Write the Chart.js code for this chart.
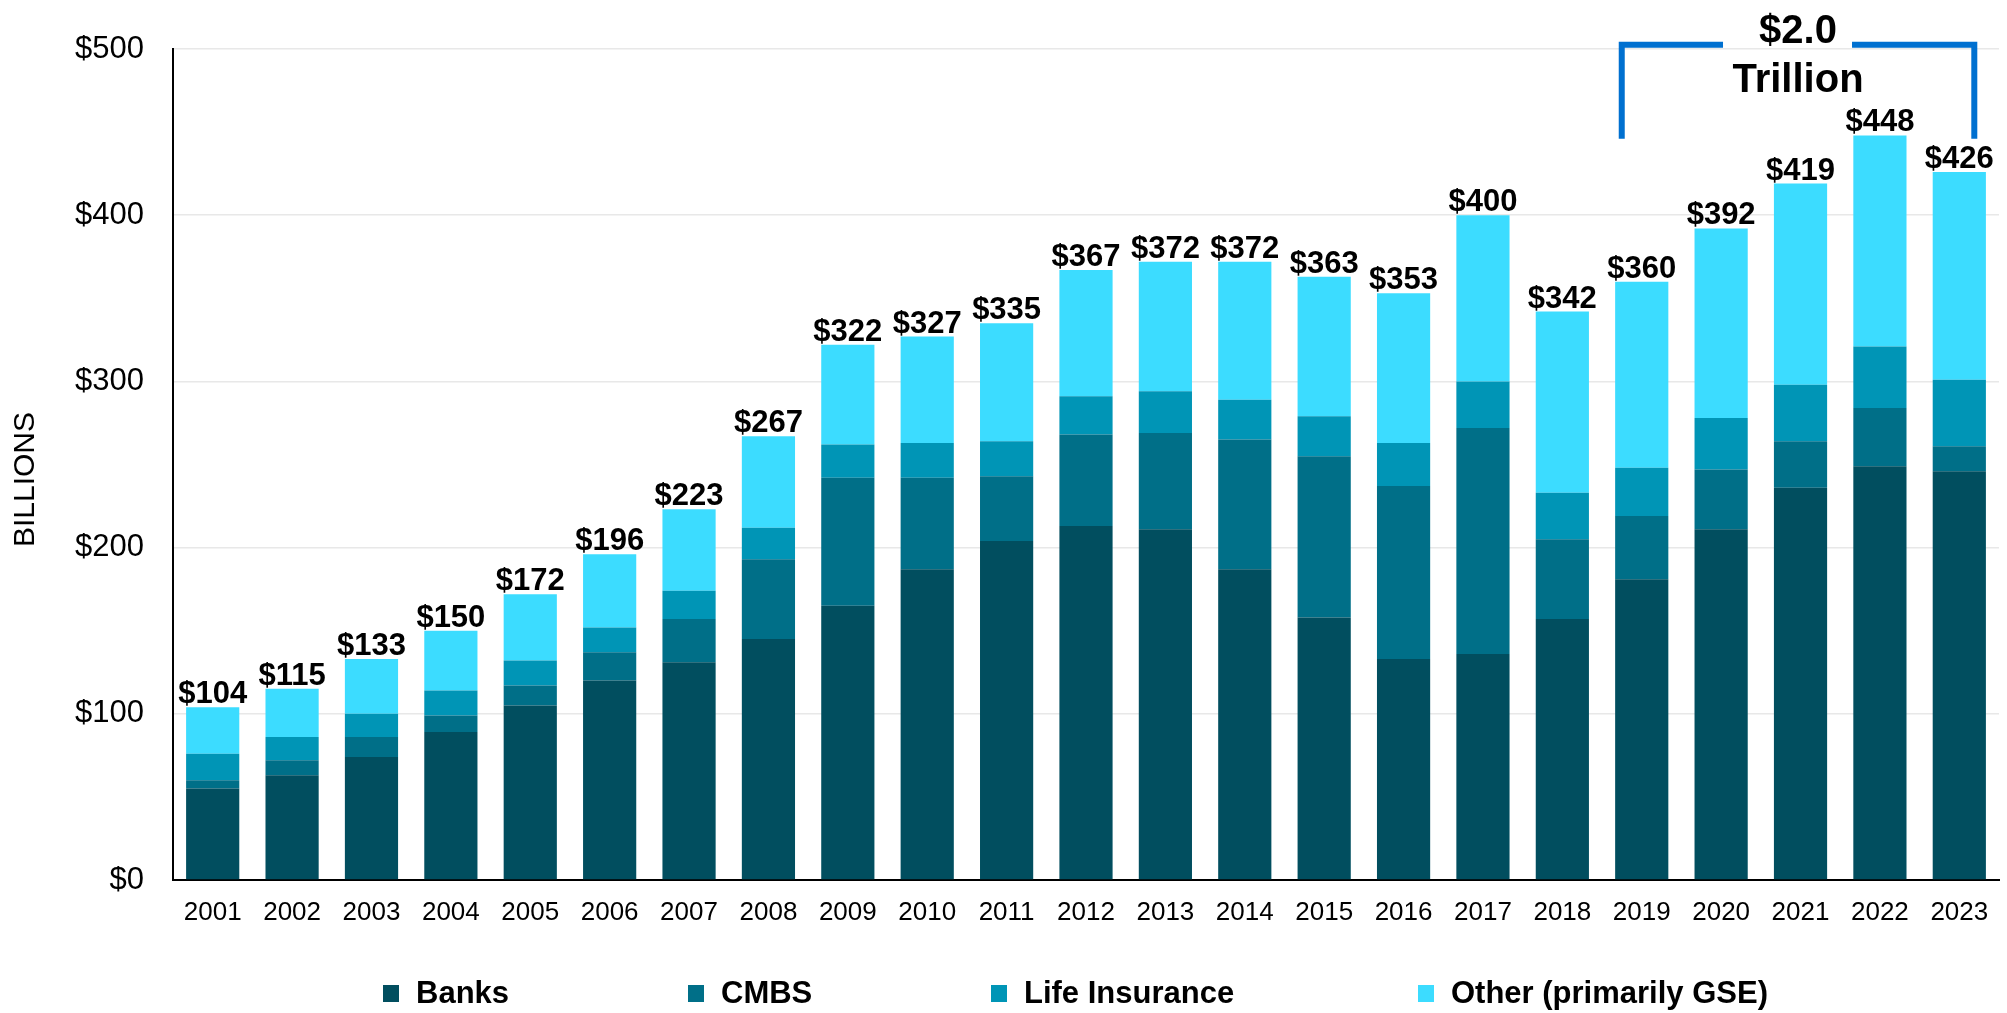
<!DOCTYPE html>
<html>
<head>
<meta charset="utf-8">
<script src="https://cdn.jsdelivr.net/npm/chart.js@4.4.1/dist/chart.umd.min.js"></script>
<style>
  html, body { margin: 0; padding: 0; background: #fff; }
  #wrap { position: relative; width: 2007px; height: 1013px; }
  #legend { position: absolute; left: 0; top: 976px; width: 2007px; height: 34px;
    font-family: "Liberation Sans", Arial, sans-serif; font-weight: bold; font-size: 31px; color: #000; }
  .item { position: absolute; top: 0; display: flex; align-items: center; height: 34px; }
  .box { width: 16px; height: 17px; margin-right: 17px; }
</style>
</head>
<body>
<div id="wrap">
  <canvas id="myChart" width="2007" height="1013"></canvas>
  <div id="legend"></div>
</div>
<script>
// commercial mortgage originations by lender, $ billions
const years = ['2001','2002','2003','2004','2005','2006','2007','2008','2009','2010','2011','2012',
  '2013','2014','2015','2016','2017','2018','2019','2020','2021','2022','2023']
const banks = [55, 63, 74, 89, 105, 120, 131, 145, 165, 187, 204, 213, 211, 187, 158, 133, 136, 157, 181, 211, 236, 249, 246]
const cmbs  = [5, 9, 12, 10, 12, 17, 26, 48, 77, 55, 39, 55, 58, 78, 97, 104, 136, 48, 38, 36, 28, 35, 15]
const life  = [16, 14, 14, 15, 15, 15, 17, 19, 20, 21, 21, 23, 25, 24, 24, 26, 28, 28, 29, 31, 34, 37, 40]
const other = [28, 29, 33, 36, 40, 44, 49, 55, 60, 64, 71, 76, 78, 83, 84, 90, 100, 109, 112, 114, 121, 127, 125]
const seriesNames = ['Banks', 'CMBS', 'Life Insurance', 'Other (primarily GSE)']
const colors = ['#014e5f', '#006f88', '#0095b6', '#3cdcff']
const yTicks = [0, 100, 200, 300, 400, 500]
const bracketText = ['$2.0', 'Trillion']

const font = '"Liberation Sans", Arial, sans-serif'

// totals above each stack
const totalsPlugin = {
    id: 'totals',
    afterDatasetsDraw(chart) {
        const ctx = chart.ctx
        const x = chart.scales.x
        const y = chart.scales.y
        ctx.save()
        ctx.font = 'bold 31px ' + font
        ctx.fillStyle = '#000'
        ctx.textAlign = 'center'
        ctx.textBaseline = 'alphabetic'
        for (var i = 0; i < years.length; i++) {
            let total = banks[i] + cmbs[i] + life[i] + other[i]
            ctx.fillText('$' + total, x.getPixelForValue(i), y.getPixelForValue(total) - 4)
        }
        ctx.restore()
    }
}

// blue bracket over 2019-2023, plus the rotated axis title
const bracketPlugin = {
    id: 'bracket',
    afterDraw(chart) {
        const ctx = chart.ctx
        const x = chart.scales.x
        const y = chart.scales.y
        const x1 = x.getPixelForValue(18) - 20
        const x2 = x.getPixelForValue(22) + 15
        const top = y.getPixelForValue(502.5)
        const bottom = y.getPixelForValue(446)
        const mid = (x1 + x2) / 2
        ctx.save()
        ctx.strokeStyle = '#0070d0'
        ctx.lineWidth = 6
        ctx.lineCap = 'butt'
        ctx.beginPath()
        ctx.moveTo(x1, bottom)
        ctx.lineTo(x1, top)
        ctx.lineTo(mid - 75, top)
        ctx.moveTo(mid + 54, top)
        ctx.lineTo(x2, top)
        ctx.lineTo(x2, bottom)
        ctx.stroke()
        ctx.font = 'bold 40px ' + font
        ctx.fillStyle = '#000'
        ctx.textAlign = 'center'
        ctx.textBaseline = 'alphabetic'
        ctx.fillText(bracketText[0], mid, top - 2)
        ctx.fillText(bracketText[1], mid, top + 47)

        // y title
        const cy = (chart.chartArea.top + chart.chartArea.bottom) / 2 + 15
        ctx.translate(26, cy)
        ctx.rotate(-Math.PI / 2)
        ctx.font = '30px ' + font
        ctx.textBaseline = 'middle'
        ctx.fillText('BILLIONS', 0, 0)
        ctx.restore()
    }
}

const seriesData = [banks, cmbs, life, other]
const datasets = seriesNames.map((name, k) => ({
    label: name,
    data: seriesData[k],
    backgroundColor: colors[k],
    borderWidth: 0,
    barPercentage: 0.67,
    categoryPercentage: 1.0
}))

var ctx = document.getElementById('myChart')
let chart = new Chart(ctx, {
    type: 'bar',
    data: { labels: years, datasets: datasets },
    plugins: [totalsPlugin, bracketPlugin],
    options: {
        responsive: false,
        animation: false,
        layout: { padding: { top: 49, right: 8, left: 0, bottom: 0 } },
        plugins: {
            legend: { display: false },
            tooltip: { enabled: false }
        },
        scales: {
            x: {
                stacked: true,
                grid: { display: false, drawTicks: false },
                border: { display: true, color: '#000', width: 2 },
                ticks: { color: '#000', font: { family: font, size: 26 }, padding: 17, maxRotation: 0 },
                afterFit: s => { s.height = 133 }
            },
            y: {
                stacked: true,
                min: 0,
                max: 500,
                afterBuildTicks: s => { s.ticks = yTicks.map(v => ({ value: v })) },
                grid: { color: '#e8e8e8', lineWidth: 1.5, drawTicks: false },
                border: { display: true, color: '#000', width: 2 },
                ticks: {
                    color: '#000',
                    font: { family: font, size: 31 },
                    padding: 29,
                    callback: v => '$' + v
                },
                afterFit: s => { s.width = 173 }
            }
        }
    }
})

// legend below the chart
const legendLeft = [383, 688, 991, 1418]
const legend = document.getElementById('legend')
seriesNames.forEach((name, k) => {
    let item = document.createElement('div')
    item.className = 'item'
    item.style.left = legendLeft[k] + 'px'
    item.innerHTML = '<div class="box" style="background:' + colors[k] + '"></div><span>' + name + '</span>'
    legend.appendChild(item)
})
</script>
</body>
</html>
